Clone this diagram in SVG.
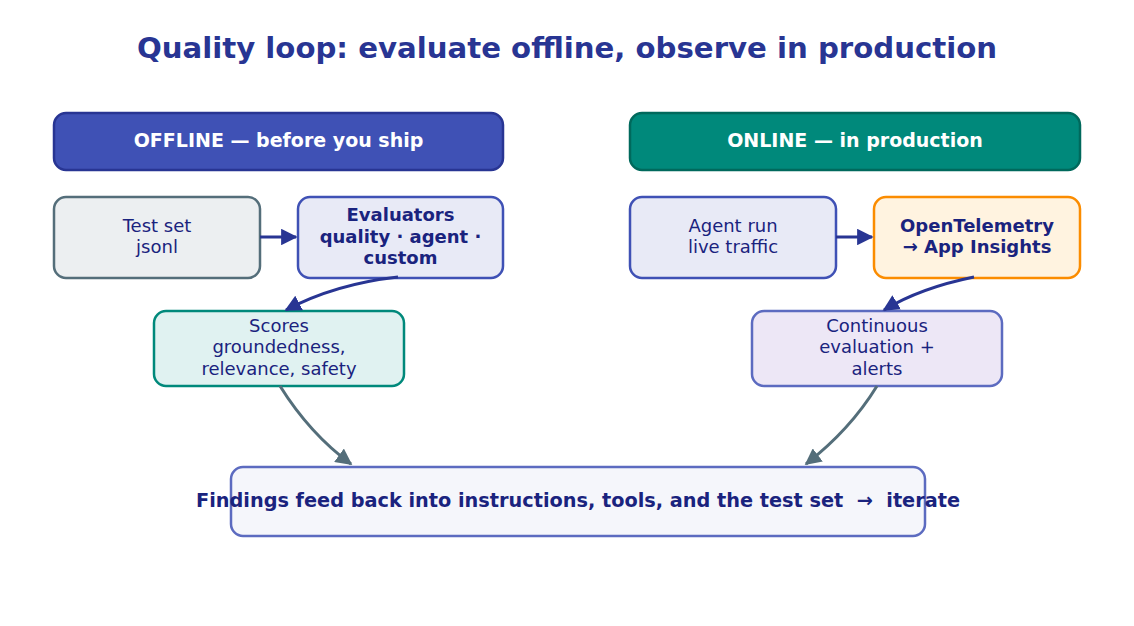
<svg xmlns="http://www.w3.org/2000/svg" width="1134" height="626" viewBox="0 0 1134 626">
<style>
text{font-family:"DejaVu Sans",sans-serif;text-anchor:middle;fill:#1a237e;font-size:18px}
.b{font-weight:bold}
.h{fill:#fff;font-weight:bold;font-size:19px}
.box{stroke-width:2.5}
.c1{fill:none;stroke:#283593;stroke-width:3}
.c2{fill:none;stroke:#546e7a;stroke-width:3}
</style>
<defs>
<marker id="a1" viewBox="0 0 10 10" refX="9" refY="5" markerWidth="5.5" markerHeight="5.5" orient="auto" markerUnits="strokeWidth"><path d="M0,0L10,5L0,10z" fill="#283593"/></marker>
<marker id="a2" viewBox="0 0 10 10" refX="9" refY="5" markerWidth="5.5" markerHeight="5.5" orient="auto" markerUnits="strokeWidth"><path d="M0,0L10,5L0,10z" fill="#546e7a"/></marker>
</defs>
<rect width="1134" height="626" fill="#fff"/>
<text x="567" y="58" class="b" style="font-size:29.2px;fill:#283593">Quality loop: evaluate offline, observe in production</text>
<g id="offline"><rect class="box" x="54" y="113" width="449" height="57" rx="12" fill="#3f51b5" stroke="#283593"/><text class="h" x="278.5" y="147">OFFLINE — before you ship</text></g>
<g id="online"><rect class="box" x="630" y="113" width="450" height="57" rx="12" fill="#00897b" stroke="#00695c"/><text class="h" x="855" y="147">ONLINE — in production</text></g>
<g id="testset"><rect class="box" x="54" y="197" width="206" height="81" rx="12" fill="#eceff1" stroke="#546e7a"/><text x="157" y="232">Test set</text><text x="157" y="253">jsonl</text></g>
<g id="evaluators"><rect class="box" x="298" y="197" width="205" height="81" rx="12" fill="#e8eaf6" stroke="#3f51b5"/><text class="b" x="400.5" y="221">Evaluators</text><text class="b" x="400.5" y="242.5">quality · agent ·</text><text class="b" x="400.5" y="264">custom</text></g>
<g id="agentrun"><rect class="box" x="630" y="197" width="206" height="81" rx="12" fill="#e8eaf6" stroke="#3f51b5"/><text x="733" y="232">Agent run</text><text x="733" y="253">live traffic</text></g>
<g id="otel"><rect class="box" x="874" y="197" width="206" height="81" rx="12" fill="#fff3e0" stroke="#fb8c00"/><text class="b" x="977" y="232">OpenTelemetry</text><text class="b" x="977" y="253">→ App Insights</text></g>
<g id="scores"><rect class="box" x="154" y="311" width="250" height="75" rx="12" fill="#e0f2f1" stroke="#00897b"/><text x="279" y="331.5">Scores</text><text x="279" y="353">groundedness,</text><text x="279" y="374.5">relevance, safety</text></g>
<g id="continuous"><rect class="box" x="752" y="311" width="250" height="75" rx="12" fill="#ede7f6" stroke="#5c6bc0"/><text x="877" y="331.5">Continuous</text><text x="877" y="353">evaluation +</text><text x="877" y="374.5">alerts</text></g>
<g id="findings"><rect class="box" x="231" y="467" width="694" height="69" rx="12" fill="#f5f6fb" stroke="#5c6bc0"/><text class="b" x="578" y="507" style="font-size:19.3px" xml:space="preserve">Findings feed back into instructions, tools, and the test set  →  iterate</text></g>
<g id="connectors">
<path class="c1" d="M260,237L296,237" marker-end="url(#a1)"/>
<path class="c1" d="M836,237L872,237" marker-end="url(#a1)"/>
<path class="c1" d="M398,277Q335,284 286,310" marker-end="url(#a1)"/>
<path class="c1" d="M974,277Q920,288 884,310" marker-end="url(#a1)"/>
<path class="c2" d="M280,386Q310,434 351,464" marker-end="url(#a2)"/>
<path class="c2" d="M877,386Q850,430 806,464" marker-end="url(#a2)"/>
</g>
</svg>
